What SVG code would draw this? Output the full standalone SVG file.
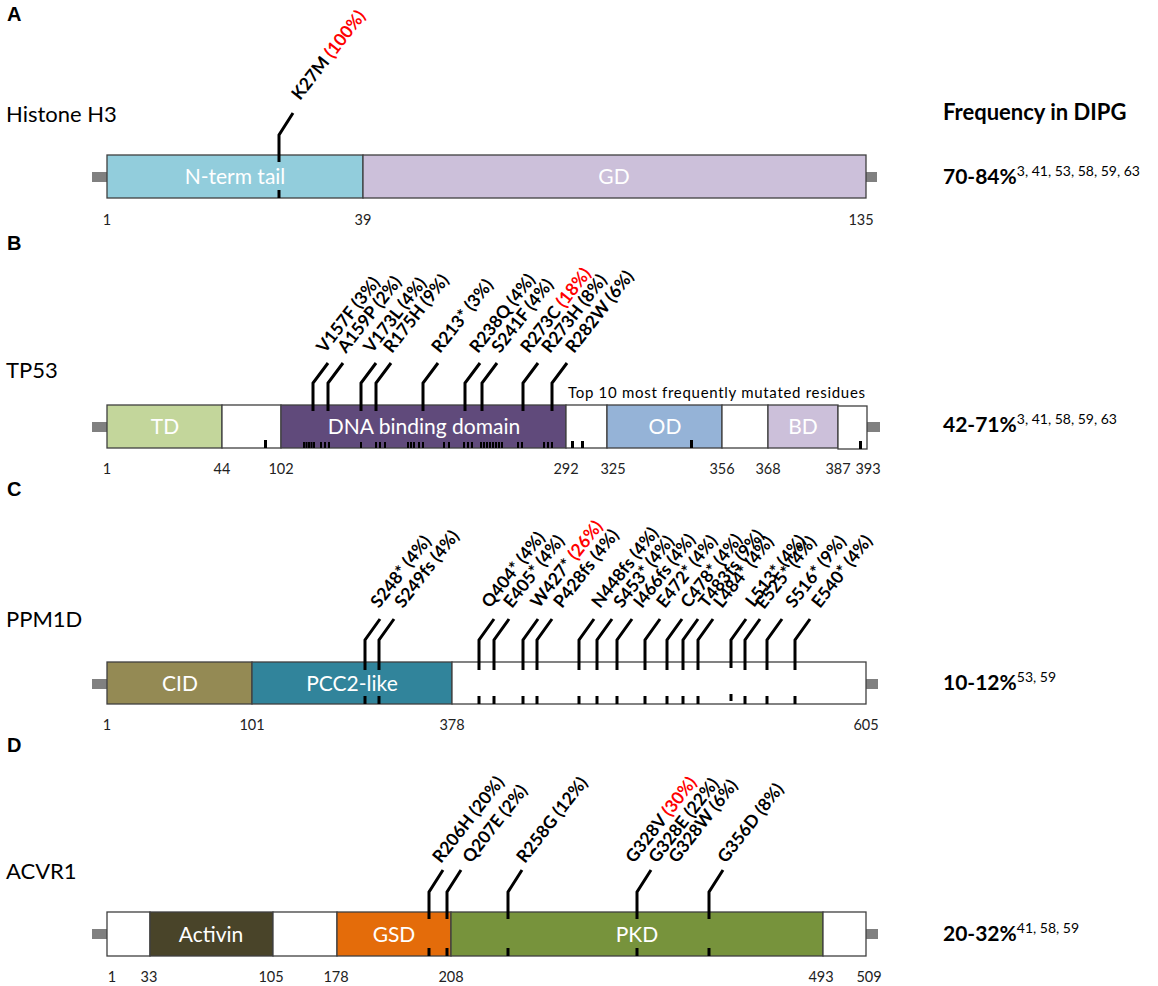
<svg xmlns="http://www.w3.org/2000/svg" width="1158" height="986" viewBox="0 0 1158 986">
<style>
text{font-family:Lato,"Open Sans","Liberation Sans",sans-serif;fill:#000}
.letter{font-family:"Liberation Sans",Arial,sans-serif;font-weight:bold;font-size:20px}
.name{font-size:22px}
.seg{stroke:#3f3f3f;stroke-width:1.3}
.dl{font-size:21px;fill:#fff;text-anchor:middle}
.num{font-size:14.5px;text-anchor:middle;fill:#222}
.mut{font-size:17.5px;font-weight:bold}
.red{fill:#ff0000}
.freq{font-size:21px;font-weight:bold}
.sup{font-size:14px;font-weight:normal}
.stub{fill:#808080}
.mk{fill:none;stroke:#000;stroke-width:3}
.tk{fill:#000}
</style>

<!-- Panel A -->
<g id="panelA">
<text class="letter" x="7" y="21">A</text>
<text class="name" x="6" y="122">Histone H3</text>
<g id="A-bar">
<rect class="stub" x="92" y="172" width="15" height="10"/>
<rect class="stub" x="866" y="172" width="11" height="10"/>
<rect class="seg" x="107" y="155" width="256" height="43" fill="#92cddc"/>
<rect class="seg" x="363" y="155" width="503" height="43" fill="#ccc0da"/>
<text class="dl" x="235" y="184">N-term tail</text>
<text class="dl" x="614" y="184">GD</text>
<rect class="tk" x="277.5" y="190" width="3" height="8"/>
</g>
<text class="num" x="107" y="225">1</text>
<text class="num" x="363" y="225">39</text>
<text class="num" x="861" y="225">135</text>
<text class="mut" transform="translate(300,101) rotate(-52)">K27M <tspan class="red">(100%)</tspan></text>
<text class="freq" x="943" y="120" style="font-size:22px">Frequency in DIPG</text>
<text class="freq" x="943" y="184">70-84%<tspan class="sup" dy="-8">3, 41, 53, 58, 59, 63</tspan></text>
</g>

<!-- Panel B -->
<g id="panelB">
<text class="letter" x="7" y="250">B</text>
<text class="name" x="6" y="378">TP53</text>
<g id="B-bar">
<rect class="stub" x="92" y="422" width="15" height="10"/>
<rect class="stub" x="867" y="422" width="13" height="10"/>
<rect class="seg" x="107" y="405" width="115" height="43" fill="#c3d69b"/>
<rect class="seg" x="222" y="405" width="59" height="43" fill="#fff"/>
<rect class="seg" x="281" y="405" width="285" height="43" fill="#604a7b"/>
<rect class="seg" x="566" y="405" width="41" height="43" fill="#fff"/>
<rect class="seg" x="607" y="405" width="115" height="43" fill="#95b3d7"/>
<rect class="seg" x="722" y="405" width="46" height="43" fill="#fff"/>
<rect class="seg" x="768" y="405" width="70" height="43" fill="#ccc0da"/>
<rect class="seg" x="838" y="406" width="29" height="43" fill="#fff"/>
<text class="dl" x="165" y="434">TD</text>
<text class="dl" x="424" y="434">DNA binding domain</text>
<text class="dl" x="665" y="434">OD</text>
<text class="dl" x="803" y="434">BD</text>
<g id="B-ticks" class="tk">
<rect x="303" y="442" width="2" height="6"/><rect x="305.5" y="442" width="2" height="6"/><rect x="308" y="442" width="2" height="6"/><rect x="310.5" y="442" width="2" height="6"/><rect x="313" y="442" width="2" height="6"/>
<rect x="320" y="442" width="2" height="6"/><rect x="324" y="442" width="2" height="6"/><rect x="328" y="442" width="2" height="6"/>
<rect x="360" y="442" width="2" height="6"/>
<rect x="375" y="442" width="2" height="6"/><rect x="379" y="442" width="2" height="6"/><rect x="384" y="442" width="2" height="6"/>
<rect x="407" y="442" width="2" height="6"/><rect x="410" y="442" width="2" height="6"/><rect x="413" y="442" width="2" height="6"/><rect x="418" y="442" width="2" height="6"/><rect x="422" y="442" width="2" height="6"/>
<rect x="443" y="442" width="2" height="6"/><rect x="448" y="442" width="2" height="6"/>
<rect x="463" y="442" width="2" height="6"/><rect x="467" y="442" width="2" height="6"/><rect x="471" y="442" width="2" height="6"/>
<rect x="480" y="442" width="2" height="6"/><rect x="483" y="442" width="2" height="6"/><rect x="486" y="442" width="2" height="6"/><rect x="489" y="442" width="2" height="6"/><rect x="492" y="442" width="2" height="6"/><rect x="495" y="442" width="2" height="6"/><rect x="498" y="442" width="2" height="6"/><rect x="501" y="442" width="2" height="6"/>
<rect x="517" y="442" width="2" height="6"/><rect x="521" y="442" width="2" height="6"/>
<rect x="543" y="442" width="2" height="6"/><rect x="547" y="442" width="2" height="6"/><rect x="551" y="442" width="2" height="6"/>
<rect x="264" y="440" width="3" height="8"/>
<rect x="571" y="441" width="3" height="7"/><rect x="581" y="441" width="3" height="7"/>
<rect x="690" y="440" width="3" height="8"/>
<rect x="859" y="441" width="3" height="8"/>
</g>
</g>
<text class="num" x="107" y="474">1</text>
<text class="num" x="222" y="474">44</text>
<text class="num" x="281" y="474">102</text>
<text class="num" x="566" y="474">292</text>
<text class="num" x="613" y="474">325</text>
<text class="num" x="722" y="474">356</text>
<text class="num" x="768" y="474">368</text>
<text class="num" x="838" y="474">387</text>
<text class="num" x="868" y="474">393</text>
<text x="568" y="398" style="font-size:15px" textLength="297">Top 10 most frequently mutated residues</text>
<g id="B-labels">
<text class="mut" transform="translate(325,354) rotate(-52)">V157F (3%)</text>
<text class="mut" transform="translate(346,354) rotate(-52)">A159P (2%)</text>
<text class="mut" transform="translate(372,354) rotate(-52)">V173L (4%)</text>
<text class="mut" transform="translate(392,354) rotate(-52)">R175H (9%)</text>
<text class="mut" transform="translate(440,354) rotate(-52)">R213* (3%)</text>
<text class="mut" transform="translate(478,354) rotate(-52)">R238Q (4%)</text>
<text class="mut" transform="translate(500,354) rotate(-52)">S241F (4%)</text>
<text class="mut" transform="translate(529,354) rotate(-52)">R273C <tspan class="red">(18%)</tspan></text>
<text class="mut" transform="translate(550,354) rotate(-52)">R273H (8%)</text>
<text class="mut" transform="translate(574,354) rotate(-52)">R282W (6%)</text>
</g>
<text class="freq" x="943" y="432">42-71%<tspan class="sup" dy="-8">3, 41, 58, 59, 63</tspan></text>
</g>

<!-- Panel C -->
<g id="panelC">
<text class="letter" x="7" y="496">C</text>
<text class="name" x="6" y="627">PPM1D</text>
<g id="C-bar">
<rect class="stub" x="92" y="679" width="15" height="10"/>
<rect class="stub" x="866" y="679" width="12" height="10"/>
<rect class="seg" x="107" y="662" width="145" height="42" fill="#948a54"/>
<rect class="seg" x="252" y="662" width="200" height="42" fill="#31849b"/>
<rect class="seg" x="452" y="662" width="414" height="42" fill="#fff"/>
<text class="dl" x="180" y="691">CID</text>
<text class="dl" x="352" y="691">PCC2-like</text>
<g id="C-ticks" class="tk">
<rect x="363.5" y="696" width="3" height="8"/><rect x="377.5" y="696" width="3" height="8"/>
<rect x="477.5" y="696" width="3" height="8"/><rect x="492.5" y="696" width="3" height="8"/>
<rect x="521.5" y="696" width="3" height="8"/><rect x="535.5" y="696" width="3" height="8"/>
<rect x="577.5" y="696" width="3" height="8"/><rect x="595.5" y="696" width="3" height="8"/><rect x="615.5" y="696" width="3" height="8"/>
<rect x="643.5" y="696" width="3" height="8"/><rect x="665.5" y="696" width="3" height="8"/><rect x="681.5" y="696" width="3" height="8"/><rect x="696.5" y="696" width="3" height="8"/>
<rect x="729.5" y="694" width="3" height="7"/><rect x="743.5" y="696" width="3" height="8"/><rect x="765.5" y="696" width="3" height="8"/><rect x="793.5" y="696" width="3" height="8"/>
</g>
</g>
<text class="num" x="107" y="730">1</text>
<text class="num" x="252" y="730">101</text>
<text class="num" x="452" y="730">378</text>
<text class="num" x="866" y="730">605</text>
<g id="C-labels">
<text class="mut" transform="translate(379,609) rotate(-52)">S248* (4%)</text>
<text class="mut" transform="translate(403,609) rotate(-52)">S249fs (4%)</text>
<text class="mut" transform="translate(490,609) rotate(-52)">Q404* (4%)</text>
<text class="mut" transform="translate(512,609) rotate(-52)">E405* (4%)</text>
<text class="mut" transform="translate(539,609) rotate(-52)">W427* <tspan class="red">(26%)</tspan></text>
<text class="mut" transform="translate(562,609) rotate(-52)">P428fs (4%)</text>
<text class="mut" transform="translate(600,609) rotate(-52)">N448fs (4%)</text>
<text class="mut" transform="translate(622,609) rotate(-52)">S453* (4%)</text>
<text class="mut" transform="translate(642,609) rotate(-52)">I466fs (4%)</text>
<text class="mut" transform="translate(665,609) rotate(-52)">E472* (4%)</text>
<text class="mut" transform="translate(689,609) rotate(-52)">C478* (4%)</text>
<text class="mut" transform="translate(707,609) rotate(-52)">T483fs (9%)</text>
<text class="mut" transform="translate(722,609) rotate(-52)">L484* (4%)</text>
<text class="mut" transform="translate(754,608) rotate(-52)">L513* (4%)</text>
<text class="mut" transform="translate(764,610) rotate(-52)">E525* (4%)</text>
<text class="mut" transform="translate(794,609) rotate(-52)">S516* (9%)</text>
<text class="mut" transform="translate(820,609) rotate(-52)">E540* (4%)</text>
</g>
<text class="freq" x="943" y="690">10-12%<tspan class="sup" dy="-8">53, 59</tspan></text>
</g>

<!-- Panel D -->
<g id="panelD">
<text class="letter" x="7" y="752">D</text>
<text class="name" x="6" y="879">ACVR1</text>
<g id="D-bar">
<rect class="stub" x="92" y="929" width="15" height="10"/>
<rect class="stub" x="866" y="929" width="12" height="10"/>
<rect class="seg" x="107" y="912" width="43" height="44" fill="#fff"/>
<rect class="seg" x="150" y="912" width="123" height="44" fill="#494429"/>
<rect class="seg" x="273" y="912" width="64" height="44" fill="#fff"/>
<rect class="seg" x="337" y="912" width="114" height="44" fill="#e46c0a"/>
<rect class="seg" x="451" y="912" width="372" height="44" fill="#77933c"/>
<rect class="seg" x="823" y="912" width="43" height="44" fill="#fff"/>
<text class="dl" x="211" y="942">Activin</text>
<text class="dl" x="394" y="942">GSD</text>
<text class="dl" x="637" y="942">PKD</text>
<g id="D-ticks" class="tk">
<rect x="427.5" y="948" width="3" height="8"/><rect x="445.5" y="948" width="3" height="8"/><rect x="506.5" y="948" width="3" height="8"/><rect x="635.5" y="948" width="3" height="8"/><rect x="707.5" y="948" width="3" height="8"/>
</g>
</g>
<text class="num" x="112" y="982">1</text>
<text class="num" x="149" y="982">33</text>
<text class="num" x="271" y="982">105</text>
<text class="num" x="336" y="982">178</text>
<text class="num" x="451" y="982">208</text>
<text class="num" x="821" y="982">493</text>
<text class="num" x="869" y="982">509</text>
<g id="D-labels">
<text class="mut" transform="translate(441,864) rotate(-52)">R206H (20%)</text>
<text class="mut" transform="translate(471,864) rotate(-52)">Q207E (2%)</text>
<text class="mut" transform="translate(525,864) rotate(-52)">R258G (12%)</text>
<text class="mut" transform="translate(634,864) rotate(-52)">G328V <tspan class="red">(30%)</tspan></text>
<text class="mut" transform="translate(657,864) rotate(-52)">G328E (22%)</text>
<text class="mut" transform="translate(677,864) rotate(-52)">G328W (6%)</text>
<text class="mut" transform="translate(726,864) rotate(-52)">G356D (8%)</text>
</g>
<text class="freq" x="943" y="941">20-32%<tspan class="sup" dy="-8">41, 58, 59</tspan></text>
</g>

<!-- Connectors: mutation markers -->
<g id="connectors" class="mk">
<path d="M279,162V135L293,113"/>
<path d="M313,411V383L328,363"/>
<path d="M328,411V383L343,363"/>
<path d="M361,411V383L376,363"/>
<path d="M376,411V383L391,363"/>
<path d="M423,411V383L438,363"/>
<path d="M465,411V383L480,363"/>
<path d="M482,411V383L497,363"/>
<path d="M523,411V383L538,363"/>
<path d="M552,411V383L567,363"/>
<path d="M365,670V640L380,619"/>
<path d="M379,670V640L394,619"/>
<path d="M479,670V640L494,619"/>
<path d="M494,670V640L509,619"/>
<path d="M523,670V640L538,619"/>
<path d="M537,670V640L552,619"/>
<path d="M579,670V640L594,619"/>
<path d="M597,670V640L612,619"/>
<path d="M617,670V640L632,619"/>
<path d="M645,670V640L660,619"/>
<path d="M667,670V640L682,619"/>
<path d="M683,670V640L698,619"/>
<path d="M698,670V640L713,619"/>
<path d="M731,668V640L746,619"/>
<path d="M745,670V640L760,619"/>
<path d="M767,670V640L782,619"/>
<path d="M795,670V640L810,619"/>
<path d="M429,919V892L443,870"/>
<path d="M447,919V892L461,870"/>
<path d="M508,919V892L522,870"/>
<path d="M637,919V892L651,870"/>
<path d="M709,919V892L723,870"/>
</g>
</svg>
